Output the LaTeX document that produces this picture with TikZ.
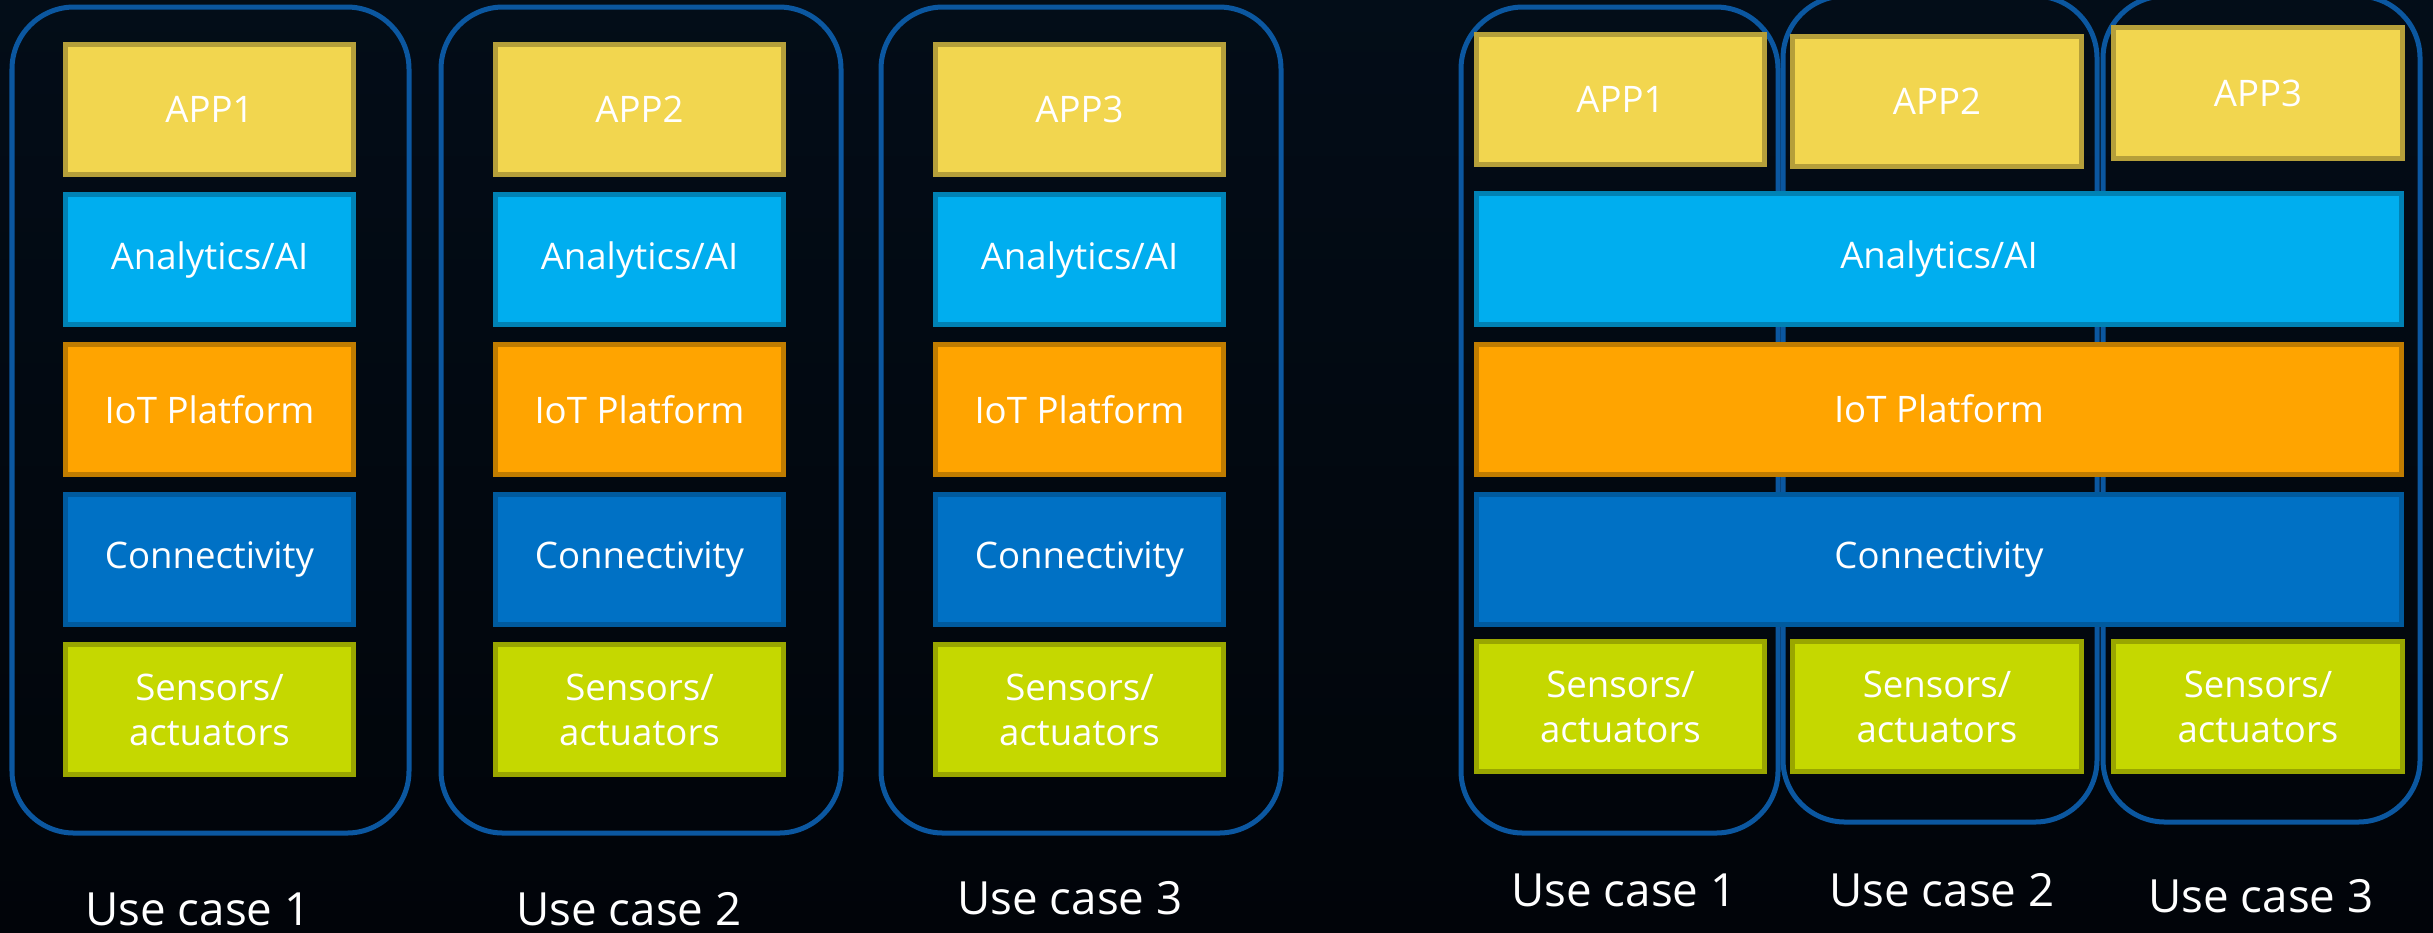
\documentclass[tikz,border=0pt]{standalone}
\usepackage{fontspec}
\setmainfont{Open Sans}
\usetikzlibrary{positioning}

\definecolor{bgtop}{RGB}{3,13,24}
\definecolor{bgmid}{RGB}{4,20,28}
\definecolor{bgbot}{RGB}{1,4,9}
\definecolor{caseline}{HTML}{0B57A0}
\definecolor{appfill}{HTML}{F2D64F}
\definecolor{appline}{HTML}{B59F3A}
\definecolor{aifill}{HTML}{00AEEF}
\definecolor{ailine}{HTML}{0082B5}
\definecolor{iotfill}{HTML}{FFA400}
\definecolor{iotline}{HTML}{C07C00}
\definecolor{confill}{HTML}{0071C5}
\definecolor{conline}{HTML}{005A9E}
\definecolor{senfill}{HTML}{C5D800}
\definecolor{senline}{HTML}{99A600}

\begin{document}
\begin{tikzpicture}[
  x=0.01cm, y=-0.01cm,
  layer/.style={draw, line width=0.05cm, text=white, align=center, inner sep=0pt,
    minimum width=2.88cm, minimum height=1.30cm, font=\fontsize{10.4pt}{12.8pt}\selectfont},
  app/.style={layer, fill=appfill, draw=appline},
  ai/.style={layer, fill=aifill, draw=ailine},
  iot/.style={layer, fill=iotfill, draw=iotline},
  con/.style={layer, fill=confill, draw=conline},
  sen/.style={layer, fill=senfill, draw=senline},
  wide/.style={minimum width=9.25cm},
  case/.style={draw=caseline, line width=0.05cm, rounded corners=0.62cm},
  caption/.style={text=white, anchor=base, inner sep=0pt, font=\fontsize{13pt}{15pt}\selectfont}
]
\useasboundingbox (0,0) rectangle (2433,932);
\shade[top color=bgtop, middle color=bgmid, bottom color=bgbot] (0,0) rectangle (2433,932);

% one stack per use case
\draw[case] (12,7) rectangle (409,833);
\draw[case] (441,7) rectangle (841,833);
\draw[case] (881,7) rectangle (1281,833);

\node[app] (app1) at (209.5,109.5) {APP1};
\node[ai, below=0.15cm of app1] (ai1) {Analytics/AI};
\node[iot, below=0.15cm of ai1] (iot1) {IoT Platform};
\node[con, below=0.15cm of iot1] (con1) {Connectivity};
\node[sen, below=0.15cm of con1] (sen1) {Sensors/\\actuators};

\node[app] (app2) at (639.5,109.5) {APP2};
\node[ai, below=0.15cm of app2] (ai2) {Analytics/AI};
\node[iot, below=0.15cm of ai2] (iot2) {IoT Platform};
\node[con, below=0.15cm of iot2] (con2) {Connectivity};
\node[sen, below=0.15cm of con2] (sen2) {Sensors/\\actuators};

\node[app] (app3) at (1079.5,109.5) {APP3};
\node[ai, below=0.15cm of app3] (ai3) {Analytics/AI};
\node[iot, below=0.15cm of ai3] (iot3) {IoT Platform};
\node[con, below=0.15cm of iot3] (con3) {Connectivity};
\node[sen, below=0.15cm of con3] (sen3) {Sensors/\\actuators};

\node[caption] (uc1) at (198,925) {Use case 1};
\node[caption] (uc2) at (629,925) {Use case 2};
\node[caption] (uc3) at (1070,914) {Use case 3};

% shared layers
\draw[case] (1461,7) rectangle (1778,833);
\draw[case] (1783,-4) rectangle (2097,822);
\draw[case] (2103,-4) rectangle (2420,822);

\node[app] (rapp1) at (1620.5,99.5) {APP1};
\node[app] (rapp2) at (1937,101.5) {APP2};
\node[app] (rapp3) at (2258,93) {APP3};
\node[ai, wide] (rai) at (1939,259) {Analytics/AI};
\node[iot, wide, below=0.15cm of rai] (riot) {IoT Platform};
\node[con, wide, below=0.15cm of riot] (rcon) {Connectivity};
\node[sen] (rsen1) at (1620.5,706.5) {Sensors/\\actuators};
\node[sen] (rsen2) at (1937,706.5) {Sensors/\\actuators};
\node[sen] (rsen3) at (2258,706.5) {Sensors/\\actuators};

\node[caption] (ruc1) at (1624,906) {Use case 1};
\node[caption] (ruc2) at (1942,906) {Use case 2};
\node[caption] (ruc3) at (2261,912) {Use case 3};
\end{tikzpicture}
\end{document}
